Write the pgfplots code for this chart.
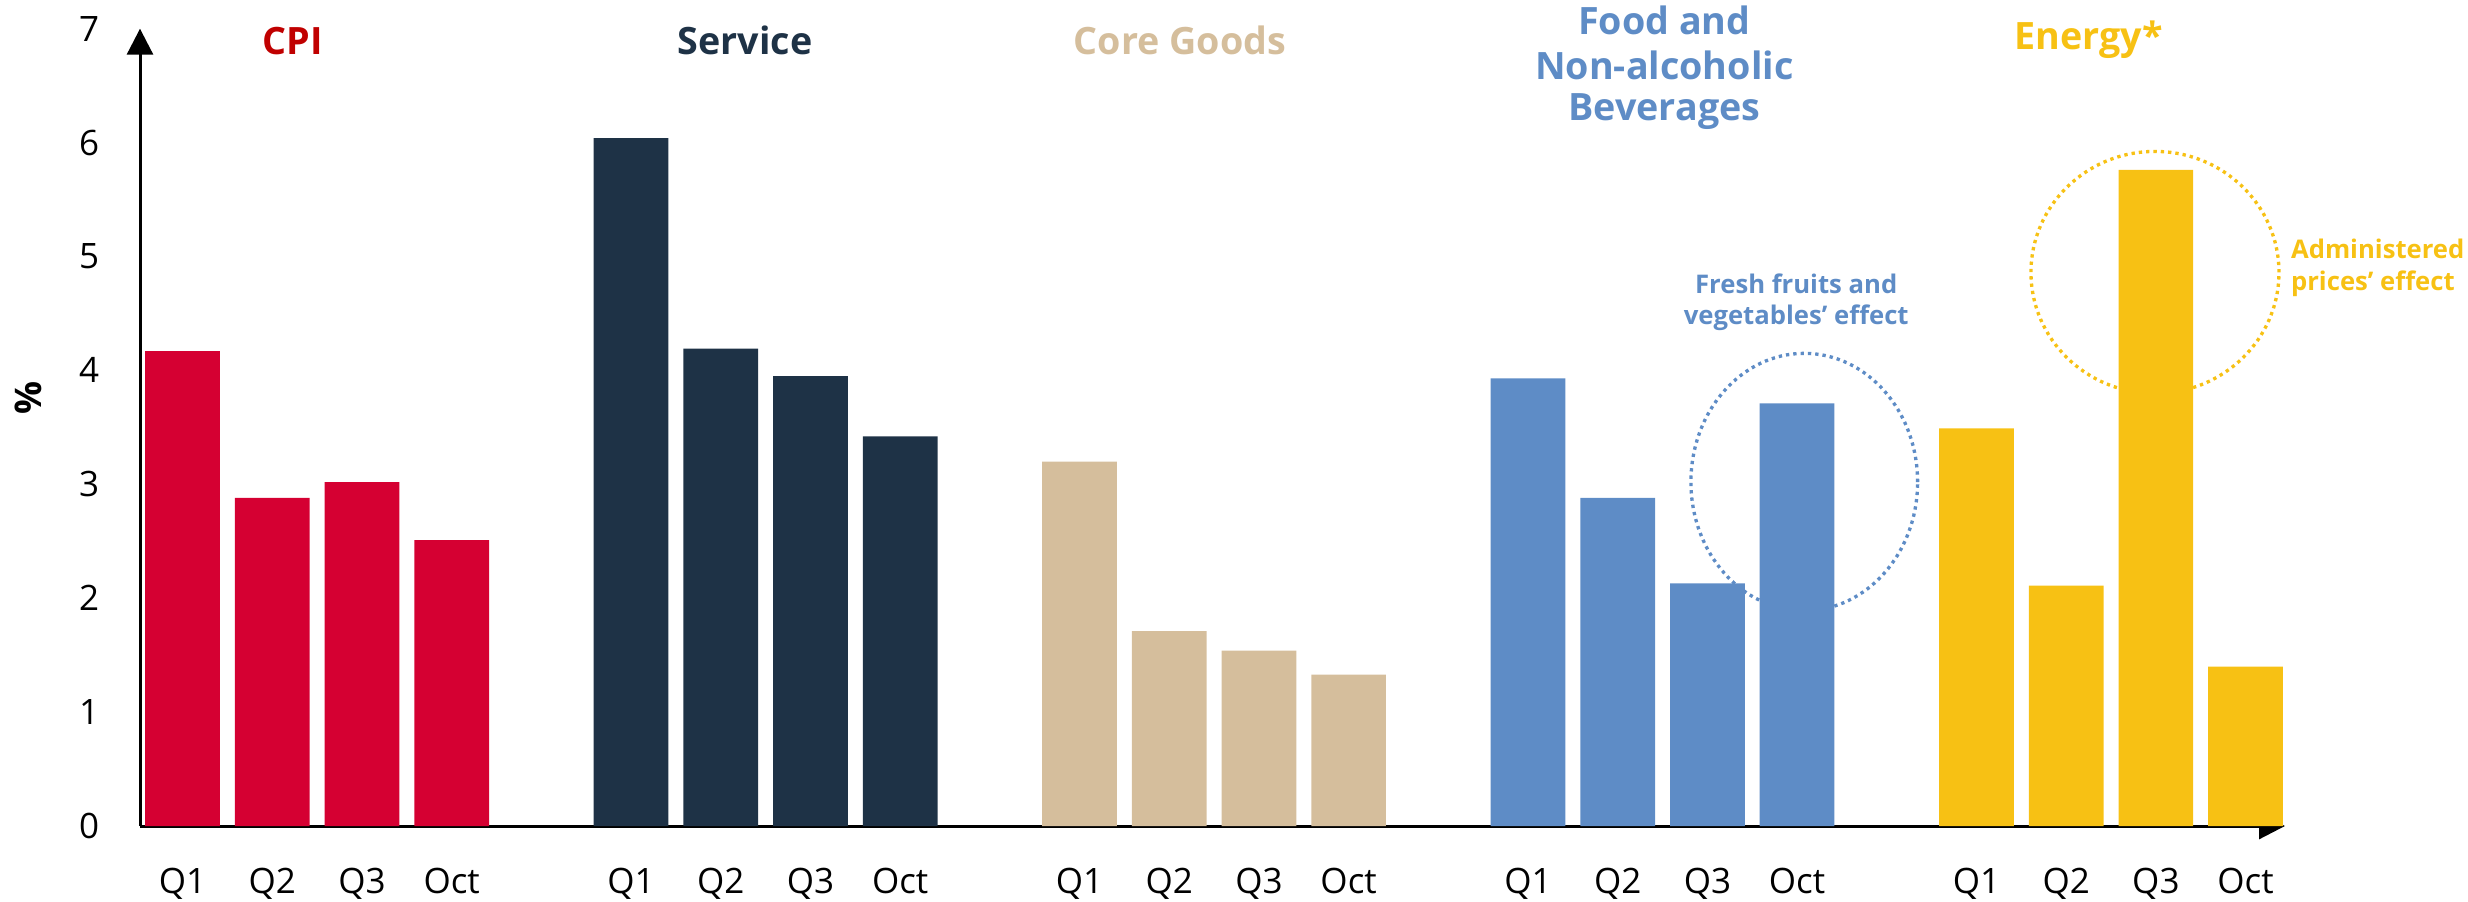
\documentclass[border=0pt]{standalone}
\usepackage{fontspec}
\setmainfont{Open Sans}
\usepackage{pgfplots}
\pgfplotsset{compat=1.18}
\usetikzlibrary{arrows.meta}

\definecolor{cpired}{HTML}{D50032}
\definecolor{cpititle}{HTML}{C00000}
\definecolor{servnavy}{HTML}{1E3246}
\definecolor{coretan}{HTML}{D5BE9C}
\definecolor{foodblue}{HTML}{5E8CC6}
\definecolor{energyyel}{HTML}{F7C114}

\begin{document}
\begin{tikzpicture}
\useasboundingbox (-42pt,-22.5pt) rectangle (698.4pt,247.8pt);
\begin{axis}[
    at={(0,0)}, anchor=south west,
    scale only axis,
    width=643.5pt, height=239.2pt,
    xmin=-0.475, xmax=23.44,
    ymin=0, ymax=7,
    enlargelimits=false,
    clip=false,
    axis lines=left,
    axis line style={line width=0.9pt, -{Triangle[width=7.8pt,length=7.8pt]}},
    major tick length=0pt,
    ytick={0,1,2,3,4,5,6,7},
    xtick={0,1,2,3,5,6,7,8,10,11,12,13,15,16,17,18,20,21,22,23},
    xticklabels={Q1,Q2,Q3,Oct,Q1,Q2,Q3,Oct,Q1,Q2,Q3,Oct,Q1,Q2,Q3,Oct,Q1,Q2,Q3,Oct},
    /pgf/number format/assume math mode=true,
    ticklabel style={font=\fontsize{10.5}{12}\selectfont},
    yticklabel style={xshift=-8.7pt},
    xticklabel style={yshift=-9.1pt},
    grp/.style={ybar, bar width=0.833, bar shift=0pt, draw=none, fill=#1},
]
% annotation rings, drawn first so the bars sit on top
\draw[foodblue, line width=1pt, dash pattern=on 1pt off 1.2pt]
    (axis cs:18.08,3.02) ellipse [x radius=34pt, y radius=38.6pt];
\draw[energyyel, line width=1pt, dash pattern=on 1pt off 1.2pt]
    (axis cs:21.99,4.86) ellipse [x radius=37.2pt, y radius=36.3pt];

% CPI
\addplot[grp=cpired] coordinates {(0,4.17) (1,2.88) (2,3.02) (3,2.51)};
% Service
\addplot[grp=servnavy] coordinates {(5,6.04) (6,4.19) (7,3.95) (8,3.42)};
% Core goods
\addplot[grp=coretan] coordinates {(10,3.20) (11,1.71) (12,1.54) (13,1.33)};
% Food and non-alcoholic beverages
\addplot[grp=foodblue] coordinates {(15,3.93) (16,2.88) (17,2.13) (18,3.71)};
% Energy
\addplot[grp=energyyel] coordinates {(20,3.49) (21,2.11) (22,5.76) (23,1.40)};

% group titles
\tikzset{ttl/.style={anchor=base, font=\fontsize{11.3}{13}\selectfont\bfseries, inner sep=0pt}}
\node[ttl, cpititle] at (axis cs:1.23,6.775) {CPI};
\node[ttl, servnavy] at (axis cs:6.27,6.775) {Service};
\node[ttl, coretan] at (axis cs:11.12,6.775) {Core Goods};
\node[ttl, foodblue] at (axis cs:16.52,6.953) {Food and};
\node[ttl, foodblue] at (axis cs:16.52,6.556) {Non-alcoholic};
\node[ttl, foodblue] at (axis cs:16.52,6.192) {Beverages};
\node[ttl, energyyel] at (axis cs:21.25,6.819) {Energy*};

% notes
\tikzset{nt/.style={font=\fontsize{7.7}{9.3}\selectfont\bfseries, inner sep=0pt}}
\node[nt, foodblue, anchor=base] at (axis cs:17.99,4.671) {Fresh fruits and};
\node[nt, foodblue, anchor=base] at (axis cs:17.99,4.399) {vegetables’ effect};
\node[nt, energyyel, anchor=base west] at (axis cs:23.50,4.984) {Administered};
\node[nt, energyyel, anchor=base west] at (axis cs:23.50,4.700) {prices’ effect};

% y label
\node[rotate=90, font=\fontsize{11}{13}\selectfont\bfseries]
    at (axis description cs:-0.0522,0.537) {\%};
\end{axis}
\end{tikzpicture}
\end{document}
